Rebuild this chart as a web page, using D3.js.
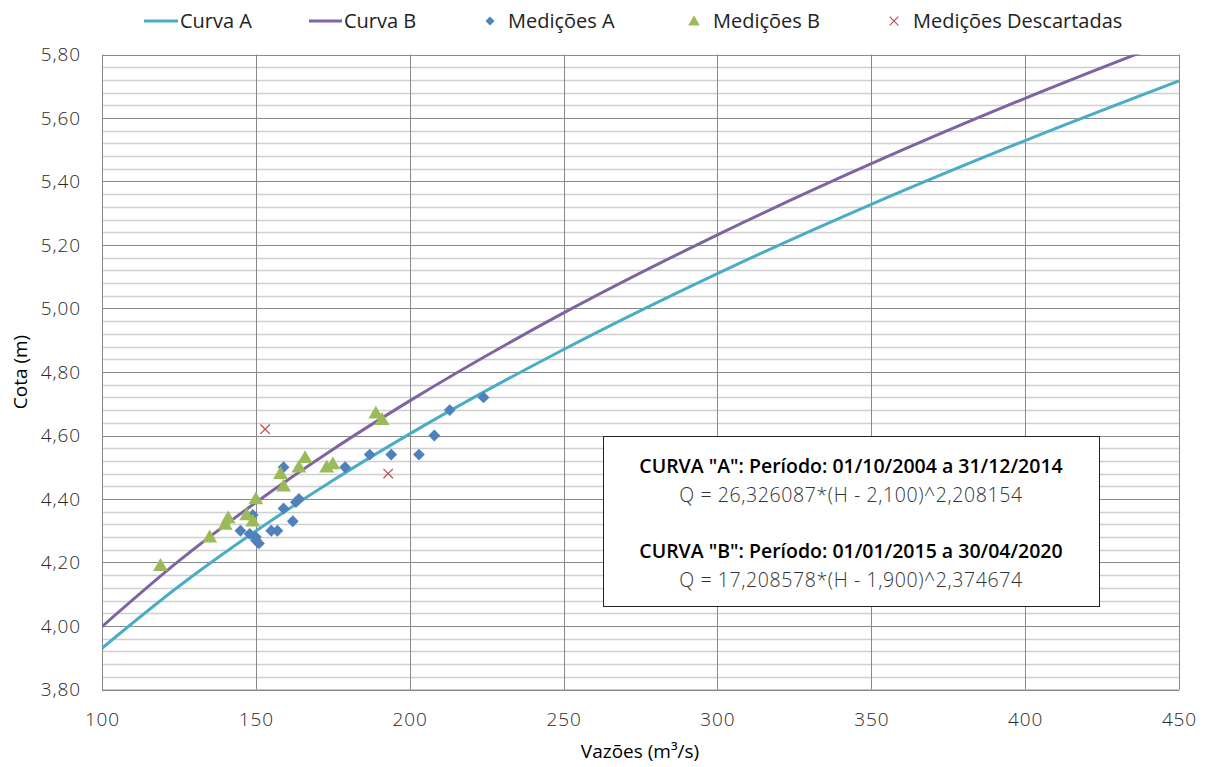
<!DOCTYPE html>
<html><head><meta charset="utf-8">
<script src="https://cdn.jsdelivr.net/npm/d3@7"></script>
<style>
html,body{margin:0;padding:0;background:#fff;}
svg{display:block;}
text{font-family:"Open Sans","Noto Sans",sans-serif;fill:#333;}
</style></head>
<body>
<svg id="chart" width="1207" height="767"></svg>
<script>
// ---- data ----
const curveQ = [100, 125, 150, 175, 200, 250, 300, 350, 400, 450];
const curveA_H = [3.930, 4.125, 4.299, 4.458, 4.605, 4.871, 5.110, 5.328, 5.529, 5.717];
const curveB_H = [3.998, 4.205, 4.389, 4.556, 4.709, 4.986, 5.232, 5.456, 5.662, 5.853];

const medA_Q = [145, 148, 149, 150, 150, 151, 155, 157, 159, 162, 163, 164, 159, 179, 187, 194, 203, 208, 213, 224];
const medA_H = [4.30, 4.29, 4.35, 4.28, 4.27, 4.26, 4.30, 4.30, 4.37, 4.33, 4.39, 4.40, 4.50, 4.50, 4.54, 4.54, 4.54, 4.60, 4.68, 4.72];

const medB_Q = [119, 135, 140, 141, 147, 149, 150, 158, 159, 164, 166, 173, 175, 189, 191];
const medB_H = [4.19, 4.28, 4.32, 4.34, 4.35, 4.33, 4.40, 4.48, 4.44, 4.50, 4.53, 4.50, 4.51, 4.67, 4.65];

const desc_Q = [153, 193];
const desc_H = [4.62, 4.48];

const xTicks = [100, 150, 200, 250, 300, 350, 400, 450];
const yTicks = [3.8, 4.0, 4.2, 4.4, 4.6, 4.8, 5.0, 5.2, 5.4, 5.6, 5.8];
const legendLabels = ["Curva A", "Curva B", "Medições A", "Medições B", "Medições Descartadas"];
const boxLines = ['CURVA "A": Período: 01/10/2004 a 31/12/2014', 'Q = 26,326087*(H - 2,100)^2,208154',
                  'CURVA "B": Período: 01/01/2015 a 30/04/2020', 'Q = 17,208578*(H - 1,900)^2,374674'];

const colA = "#4BACC6", colB = "#8064A2", colMA = "#4F81BD", colMB = "#9BBB59", colX = "#C0504D";

// ---- layout ----
const svg = d3.select("#chart");
const L = 102, R = 1179, T = 54.5, B = 689.5;
const x = d3.scaleLinear().domain([100, 450]).range([L, R]);
const y = d3.scaleLinear().domain([3.8, 5.8]).range([B, T]);

// minor horizontal grid (every 0.04)
const minor = d3.range(0, 51).map(i => 3.8 + i * 0.04).filter((v, i) => i % 5 !== 0);
svg.append("g").selectAll("line").data(minor).join("line")
  .attr("x1", L).attr("x2", R)
  .attr("y1", d => Math.round(y(d)) + 0.5).attr("y2", d => Math.round(y(d)) + 0.5)
  .attr("stroke", "#cfcfcf").attr("stroke-width", 1.5);
// major horizontal grid
svg.append("g").selectAll("line").data(yTicks).join("line")
  .attr("x1", L).attr("x2", R)
  .attr("y1", d => Math.round(y(d)) + 0.5).attr("y2", d => Math.round(y(d)) + 0.5)
  .attr("stroke", "#8a8a8a").attr("stroke-width", 1);
// vertical grid
svg.append("g").selectAll("line").data(xTicks).join("line")
  .attr("y1", T).attr("y2", B)
  .attr("x1", d => Math.round(x(d)) + 0.5).attr("x2", d => Math.round(x(d)) + 0.5)
  .attr("stroke", "#8a8a8a").attr("stroke-width", 1);

// axes
const tickStyle = g => g.selectAll("text").attr("font-size", 19).attr("letter-spacing", 0.9)
  .attr("font-family", '"Open Sans",sans-serif').attr("font-weight", 300).style("fill", "#2a2a2a");
const xAxis = d3.axisBottom(x).tickValues(xTicks).tickSize(0).tickPadding(23).tickFormat(d3.format("d"));
const gx = svg.append("g").attr("transform", `translate(0,${B})`).call(xAxis);
gx.select(".domain").attr("stroke", "#8a8a8a");
tickStyle(gx);

const fmtY = v => d3.format(".2f")(v).replace(".", ",");
const yAxis = d3.axisLeft(y).tickValues(yTicks).tickSize(0).tickPadding(21).tickFormat(fmtY);
const gy = svg.append("g").attr("transform", `translate(${L},0)`).call(yAxis);
gy.select(".domain").attr("stroke", "#8a8a8a");
tickStyle(gy);

// axis titles
svg.append("text").attr("x", 640).attr("y", 758).attr("text-anchor", "middle")
  .attr("font-size", 19).style("fill", "#000").text("Vazões (m³/s)");
svg.append("text").attr("transform", "translate(27,372) rotate(-90)").attr("text-anchor", "middle")
  .attr("font-size", 19).style("fill", "#000").text("Cota (m)");

// clip
svg.append("clipPath").attr("id", "clip").append("rect").attr("x", L).attr("y", T).attr("width", R - L).attr("height", B - T);

const line = d3.line().x(d => x(d[0])).y(d => y(d[1])).curve(d3.curveMonotoneX);
const gl = svg.append("g").attr("clip-path", "url(#clip)");
gl.append("path").datum(curveQ.map((q, i) => [q, curveA_H[i]])).attr("d", line)
  .attr("fill", "none").attr("stroke", colA).attr("stroke-width", 3);
gl.append("path").datum(curveQ.map((q, i) => [q, curveB_H[i]])).attr("d", line)
  .attr("fill", "none").attr("stroke", colB).attr("stroke-width", 3);

// markers
const diamond = d3.symbol().type(d3.symbolSquare).size(70);
const tri = d3.symbol().type(d3.symbolTriangle).size(95);

svg.append("g").selectAll("path").data(medA_Q.map((q, i) => [q, medA_H[i]])).join("path")
  .attr("d", diamond).attr("transform", d => `translate(${x(d[0])},${y(d[1])}) rotate(45)`)
  .attr("fill", colMA);
svg.append("g").selectAll("path").data(medB_Q.map((q, i) => [q, medB_H[i]])).join("path")
  .attr("d", tri).attr("transform", d => `translate(${x(d[0])},${y(d[1]) + 1})`)
  .attr("fill", colMB);
svg.append("g").selectAll("path").data(desc_Q.map((q, i) => [q, desc_H[i]])).join("path")
  .attr("d", d3.symbol().type(d3.symbolX).size(60)).attr("transform", d => `translate(${x(d[0])},${y(d[1])})`)
  .attr("fill", "none").attr("stroke", colX).attr("stroke-width", 1.3);

// legend
const lg = svg.append("g");
const ly = 21;
lg.append("line").attr("x1", 144).attr("x2", 178).attr("y1", ly).attr("y2", ly).attr("stroke", colA).attr("stroke-width", 3);
lg.append("line").attr("x1", 309).attr("x2", 342).attr("y1", ly).attr("y2", ly).attr("stroke", colB).attr("stroke-width", 3);
lg.append("path").attr("d", d3.symbol().type(d3.symbolSquare).size(40)).attr("transform", `translate(490,${ly}) rotate(45)`).attr("fill", colMA);
lg.append("path").attr("d", d3.symbol().type(d3.symbolTriangle).size(60)).attr("transform", `translate(694,${ly + 1})`).attr("fill", colMB);
lg.append("path").attr("d", d3.symbol().type(d3.symbolX).size(50)).attr("transform", `translate(894,${ly})`).attr("fill", "none").attr("stroke", colX).attr("stroke-width", 1.2);
const legendTextX = [180, 344, 508, 713, 913];
legendLabels.forEach((t, i) => {
  lg.append("text").attr("x", legendTextX[i]).attr("y", ly + 7).attr("font-size", 20).style("fill", "#222").text(t);
});

// equation box
const bx = 603.5, by = 436.5, bw = 496, bh = 170;
svg.append("rect").attr("x", bx).attr("y", by).attr("width", bw).attr("height", bh)
  .attr("fill", "#fff").attr("stroke", "#222").attr("stroke-width", 1);
const cx = 851;
const boxY = [473, 502, 558, 587];
boxLines.forEach((t, i) => {
  const bold = i % 2 === 0;
  svg.append("text").attr("x", cx).attr("y", boxY[i]).attr("text-anchor", "middle")
    .attr("font-size", 19.5)
    .attr("font-weight", bold ? 600 : 300)
    .attr("letter-spacing", bold ? 0 : 0.6)
    .style("fill", bold ? "#000" : "#333").text(t);
});
</script>
</body></html>
